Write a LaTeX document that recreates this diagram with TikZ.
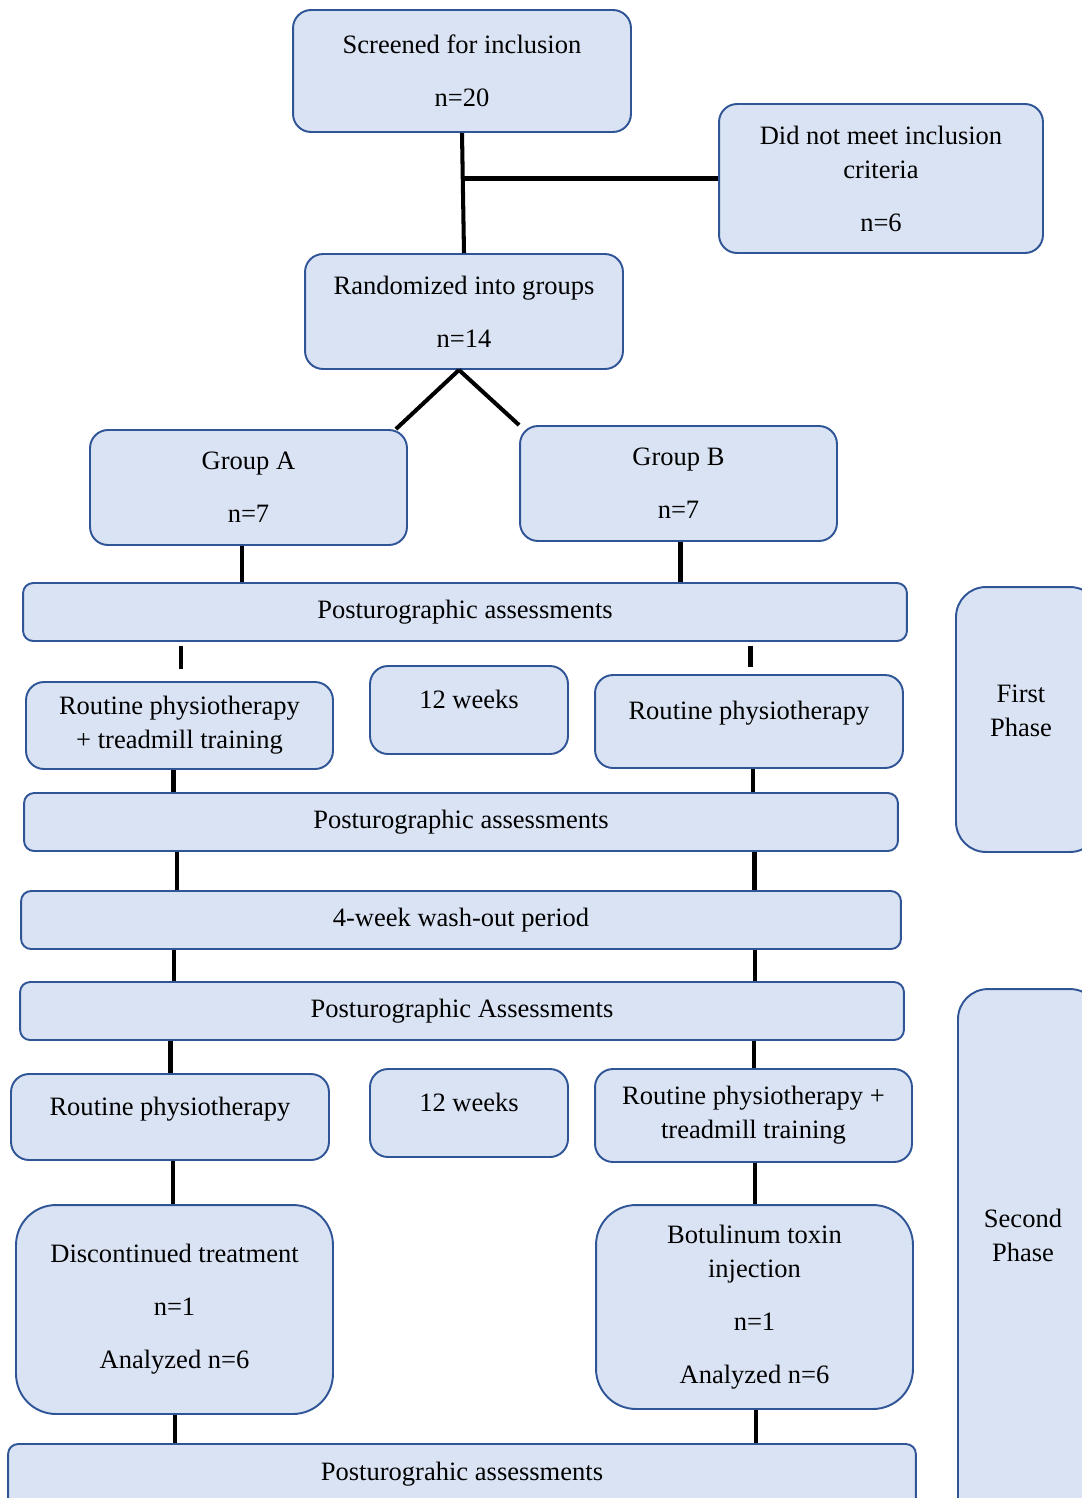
\documentclass[tikz,border=0pt]{standalone}
\usepackage{fontspec}
\setmainfont{Liberation Serif}
\usetikzlibrary{positioning,calc}
\definecolor{boxfill}{HTML}{DAE3F3}
\definecolor{boxline}{HTML}{2F5597}
\tikzset{
box/.style={draw=boxline, fill=boxfill, line width=1.1pt, rounded corners=0.36cm, align=center, inner sep=0pt, font=\fontsize{15.1}{19.3}\selectfont},
bar/.style={box, rounded corners=0.2cm},
bigbox/.style={box, rounded corners=0.8cm},
lift/.style={text height=10pt, text depth=12pt},
conn/.style={line width=2.3pt},
txt/.style={align=center, inner sep=0pt, font=\fontsize{15.1}{19.3}\selectfont}
}
\begin{document}
\begin{tikzpicture}[x=0.02cm,y=-0.02cm]
\clip (0,0) rectangle (1082,1498);

\node[box, minimum width=6.76cm, minimum height=2.44cm] (scr) at (462,71) {Screened for inclusion\\[10.9pt]n=20};
\node[box, minimum width=6.48cm, minimum height=2.98cm] (excl) at (881,178.5) {Did not meet inclusion\\criteria\\[10.9pt]n=6};
\node[box, minimum width=6.36cm, minimum height=2.30cm] (rand) at (464,311.5) {Randomized into groups\\[10.9pt]n=14};
\node[box, minimum width=6.34cm, minimum height=2.30cm] (grpA) at (248.5,487.5) {Group A\\[10.9pt]n=7};
\node[box, minimum width=6.34cm, minimum height=2.30cm] (grpB) at (678.5,483.5) {Group B\\[10.9pt]n=7};

% first phase
\node[bar, minimum width=17.68cm, minimum height=1.16cm] (postA) at (465,612) {Posturographic assessments};
\node[box, minimum width=6.14cm, minimum height=1.74cm] (rptA) at (179.5,725.5) {Routine physiotherapy\\+ treadmill training};
\node[box, lift, minimum width=3.96cm, minimum height=1.76cm] (wkA) at (469,710) {12 weeks};
\node[box, lift, minimum width=6.16cm, minimum height=1.86cm] (rpB) at (749,721.5) {Routine physiotherapy};
\node[bar, minimum width=17.48cm, minimum height=1.16cm] (postB) at (461,822) {Posturographic assessments};
\node[box, rounded corners=0.6cm, minimum width=2.88cm, minimum height=5.30cm] (ph1) at (1028,719.5) {};
\node[txt] (ph1t) at (1021,711) {First\\Phase};

% wash-out
\node[bar, minimum width=17.60cm, minimum height=1.16cm] (wash) at (461,920) {4-week wash-out period};

% second phase
\node[bar, minimum width=17.68cm, minimum height=1.16cm] (postC) at (462,1011) {Posturographic Assessments};
\node[box, lift, minimum width=6.36cm, minimum height=1.72cm] (rpA2) at (170,1117) {Routine physiotherapy};
\node[box, lift, minimum width=3.96cm, minimum height=1.76cm] (wkB) at (469,1113) {12 weeks};
\node[box, minimum width=6.34cm, minimum height=1.86cm] (rptB) at (753.5,1115.5) {Routine physiotherapy +\\treadmill training};
\node[bigbox, minimum width=6.34cm, minimum height=4.18cm] (disc) at (174.5,1309.5) {Discontinued treatment\\[10.9pt]n=1\\[10.9pt]Analyzed n=6};
\node[bigbox, minimum width=6.34cm, minimum height=4.08cm] (botu) at (754.5,1307) {Botulinum toxin\\injection\\[10.9pt]n=1\\[10.9pt]Analyzed n=6};
\node[bar, minimum width=18.16cm, minimum height=1.60cm] (postD) at (462,1484) {};
\node[txt] (postDt) at (462,1474) {Posturograhic assessments};
\node[box, rounded corners=0.6cm, minimum width=2.84cm, minimum height=10.82cm] (ph2) at (1029,1259.5) {};
\node[txt] (ph2t) at (1023,1235) {Second\\Phase};

% connectors
\draw[conn] (scr.south) -- (rand.north);
\draw[conn] (excl.west) -- (excl.west -| scr.south);
\draw[conn] ([xshift=-0.1cm]rand.south) -- ([xshift=-0.24cm]grpA.north east);
\draw[conn] ([xshift=-0.1cm]rand.south) -- (grpB.north west);

\draw[conn] (242,0 |- grpA.south) -- (242,0 |- postA.north);
\draw[conn] (680.5,0 |- grpB.south) -- (680.5,0 |- postA.north);
\draw[conn, shorten <=0.08cm, shorten >=0.24cm] (181,0 |- postA.south) -- (181,0 |- rptA.north);
\draw[conn, shorten <=0.08cm, shorten >=0.14cm] (750.5,0 |- postA.south) -- (750.5,0 |- rpB.north);
\draw[conn] (173.5,0 |- rptA.south) -- (173.5,0 |- postB.north);
\draw[conn] (753,0 |- rpB.south) -- (753,0 |- postB.north);
\draw[conn] (177,0 |- postB.south) -- (177,0 |- wash.north);
\draw[conn] (754.5,0 |- postB.south) -- (754.5,0 |- wash.north);
\draw[conn] (174,0 |- wash.south) -- (174,0 |- postC.north);
\draw[conn] (755,0 |- wash.south) -- (755,0 |- postC.north);
\draw[conn] (170.5,0 |- postC.south) -- (170.5,0 |- rpA2.north);
\draw[conn] (754,0 |- postC.south) -- (754,0 |- rptB.north);
\draw[conn] (173,0 |- rpA2.south) -- (173,0 |- disc.north);
\draw[conn] (755,0 |- rptB.south) -- (755,0 |- botu.north);
\draw[conn] (175,0 |- disc.south) -- (175,0 |- postD.north);
\draw[conn] (756,0 |- botu.south) -- (756,0 |- postD.north);
\end{tikzpicture}
\end{document}
